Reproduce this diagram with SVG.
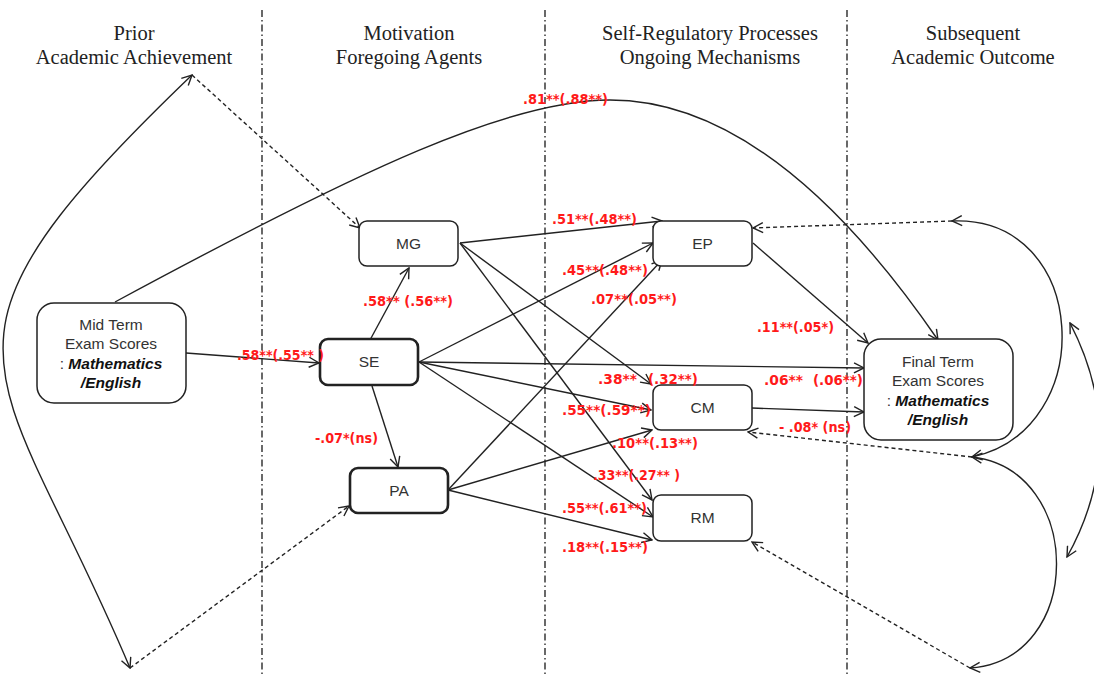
<svg xmlns="http://www.w3.org/2000/svg" width="1094" height="675" viewBox="0 0 1094 675">
  <style>
    .hdr { font-family: "Liberation Serif", "Times New Roman", serif; font-size: 20.5px; fill: #222; text-anchor: middle; }
    .div { stroke: #444; stroke-width: 1.6; stroke-dasharray: 7 3 1.5 3; fill: none; }
    .box { fill: #fff; stroke: #222; stroke-width: 1.5; }
    .box.thick { stroke-width: 2.6; }
    .lbl { font-family: "Liberation Sans", Arial, sans-serif; font-size: 15.5px; fill: #333; text-anchor: middle; }
    .bi { font-weight: bold; font-style: italic; fill: #111; }
    .ln { fill: none; stroke: #222; stroke-width: 1.4; marker-end: url(#ah); }
    .both { marker-start: url(#ah); }
    .dash { stroke-dasharray: 4 3; }
    .coef { font-family: "DejaVu Sans", Verdana, sans-serif; font-size: 14.5px; font-weight: bold; fill: #ff1a1a; }
  </style>
  <defs>
    <marker id="ah" viewBox="0 0 12 12" refX="11" refY="6" markerWidth="12" markerHeight="12" markerUnits="userSpaceOnUse" orient="auto-start-reverse">
      <path d="M1,1 L11,6 L1,11" fill="none" stroke="#222" stroke-width="1.4"/>
    </marker>
  </defs>

  <!-- column headings -->
  <g id="headings">
    <text class="hdr" x="134" y="40">Prior</text>
    <text class="hdr" x="134" y="64">Academic Achievement</text>
    <text class="hdr" x="409" y="40">Motivation</text>
    <text class="hdr" x="409" y="64">Foregoing Agents</text>
    <text class="hdr" x="710" y="40">Self-Regulatory Processes</text>
    <text class="hdr" x="710" y="64">Ongoing Mechanisms</text>
    <text class="hdr" x="973" y="40">Subsequent</text>
    <text class="hdr" x="973" y="64">Academic Outcome</text>
  </g>

  <!-- column dividers -->
  <g id="dividers">
    <line class="div" x1="262" y1="10" x2="262" y2="675"/>
    <line class="div" x1="545" y1="10" x2="545" y2="675"/>
    <line class="div" x1="847" y1="10" x2="847" y2="675"/>
  </g>

  <!-- paths and covariances -->
  <g id="connectors">
    <path class="ln" d="M115,302 C365,167 510,100 610,100 C670,100 788,122 938,340"/>
    <line class="ln" x1="186" y1="353" x2="319" y2="363"/>
    <line class="ln" x1="370" y1="340" x2="409" y2="268"/>
    <line class="ln" x1="372" y1="386" x2="398" y2="467"/>
    <line class="ln" x1="460" y1="243" x2="662" y2="221"/>
    <line class="ln" x1="460" y1="243" x2="651" y2="384"/>
    <line class="ln" x1="460" y1="243" x2="652" y2="500"/>
    <line class="ln" x1="419" y1="362" x2="653" y2="243"/>
    <line class="ln" x1="419" y1="362" x2="864" y2="368"/>
    <line class="ln" x1="419" y1="362" x2="651" y2="410"/>
    <line class="ln" x1="419" y1="362" x2="653" y2="517"/>
    <line class="ln" x1="448" y1="490" x2="662" y2="260"/>
    <line class="ln" x1="448" y1="490" x2="652" y2="430"/>
    <line class="ln" x1="448" y1="490" x2="652" y2="540"/>
    <line class="ln" x1="753" y1="243" x2="868" y2="343"/>
    <line class="ln" x1="752" y1="408" x2="864" y2="412"/>

    <!-- left covariance arc with its links -->
    <path class="ln both" d="M192,75 C-97,352 -2,355 130,668"/>
    <line class="ln dash" x1="192" y1="75" x2="360" y2="228"/>
    <line class="ln dash" x1="130" y1="668" x2="349" y2="506"/>

    <!-- right covariance arcs with their links -->
    <path class="ln both" d="M952,221 C1090,215 1100,430 972,457"/>
    <path class="ln both" d="M972,457 C1085,470 1085,660 970,668"/>
    <path class="ln both" d="M1070,323 C1110,400 1110,480 1067,557"/>
    <line class="ln dash" x1="952" y1="221" x2="753" y2="228"/>
    <line class="ln dash" x1="972" y1="457" x2="748" y2="432"/>
    <line class="ln dash" x1="970" y1="668" x2="752" y2="542"/>
  </g>

  <!-- nodes -->
  <g id="midterm">
    <rect class="box" x="37" y="303" width="149" height="100" rx="17"/>
    <text class="lbl" x="111" y="330">Mid Term</text>
    <text class="lbl" x="111" y="349">Exam Scores</text>
    <text class="lbl" x="111" y="369">:  <tspan class="bi">Mathematics</tspan></text>
    <text class="lbl" x="111" y="388"><tspan class="bi">/English</tspan></text>
  </g>
  <g id="mg">
    <rect class="box" x="359" y="221" width="99" height="45" rx="8"/>
    <text class="lbl" x="408.5" y="249">MG</text>
  </g>
  <g id="se">
    <rect class="box thick" x="320" y="339" width="98" height="46" rx="8"/>
    <text class="lbl" x="369" y="367">SE</text>
  </g>
  <g id="pa">
    <rect class="box thick" x="350" y="468" width="98" height="45" rx="8"/>
    <text class="lbl" x="399" y="496">PA</text>
  </g>
  <g id="ep">
    <rect class="box" x="653" y="221" width="99" height="45" rx="8"/>
    <text class="lbl" x="702.5" y="249">EP</text>
  </g>
  <g id="cm">
    <rect class="box" x="653" y="385" width="99" height="45" rx="8"/>
    <text class="lbl" x="702.5" y="413">CM</text>
  </g>
  <g id="rm">
    <rect class="box" x="653" y="495" width="99" height="46" rx="8"/>
    <text class="lbl" x="702.5" y="523">RM</text>
  </g>
  <g id="finalterm">
    <rect class="box" x="864" y="339" width="149" height="101" rx="17"/>
    <text class="lbl" x="938" y="367">Final Term</text>
    <text class="lbl" x="938" y="386">Exam Scores</text>
    <text class="lbl" x="938" y="406">:  <tspan class="bi">Mathematics</tspan></text>
    <text class="lbl" x="938" y="425"><tspan class="bi">/English</tspan></text>
  </g>

  <!-- path coefficients -->
  <g id="coefficients">
    <text class="coef" x="523" y="104" textLength="85" lengthAdjust="spacingAndGlyphs">.81**(.88**)</text>
    <text class="coef" x="552" y="224" textLength="85" lengthAdjust="spacingAndGlyphs">.51**(.48**)</text>
    <text class="coef" x="363" y="306" textLength="90" lengthAdjust="spacingAndGlyphs">.58** (.56**)</text>
    <text class="coef" x="237" y="360" textLength="87" lengthAdjust="spacingAndGlyphs">.58**(.55** )</text>
    <text class="coef" x="562" y="275" textLength="86" lengthAdjust="spacingAndGlyphs">.45**(.48**)</text>
    <text class="coef" x="591" y="304" textLength="86" lengthAdjust="spacingAndGlyphs">.07**(.05**)</text>
    <text class="coef" x="757" y="332" textLength="77" lengthAdjust="spacingAndGlyphs">.11**(.05*)</text>
    <text class="coef" x="598" y="384" textLength="39" lengthAdjust="spacingAndGlyphs">.38**</text>
    <text class="coef" x="648" y="384" textLength="50" lengthAdjust="spacingAndGlyphs">(.32**)</text>
    <text class="coef" x="764" y="385" textLength="39" lengthAdjust="spacingAndGlyphs">.06**</text>
    <text class="coef" x="813" y="385" textLength="50" lengthAdjust="spacingAndGlyphs">(.06**)</text>
    <text class="coef" x="562" y="415" textLength="89" lengthAdjust="spacingAndGlyphs">.55**(.59**)</text>
    <text class="coef" x="779" y="432" textLength="72" lengthAdjust="spacingAndGlyphs">- .08* (ns)</text>
    <text class="coef" x="612" y="448" textLength="86" lengthAdjust="spacingAndGlyphs">.10**(.13**)</text>
    <text class="coef" x="593" y="480" textLength="87" lengthAdjust="spacingAndGlyphs">.33**(.27** )</text>
    <text class="coef" x="562" y="513" textLength="85" lengthAdjust="spacingAndGlyphs">.55**(.61**)</text>
    <text class="coef" x="562" y="552" textLength="86" lengthAdjust="spacingAndGlyphs">.18**(.15**)</text>
    <text class="coef" x="315" y="443" textLength="63" lengthAdjust="spacingAndGlyphs">-.07*(ns)</text>
  </g>
</svg>
